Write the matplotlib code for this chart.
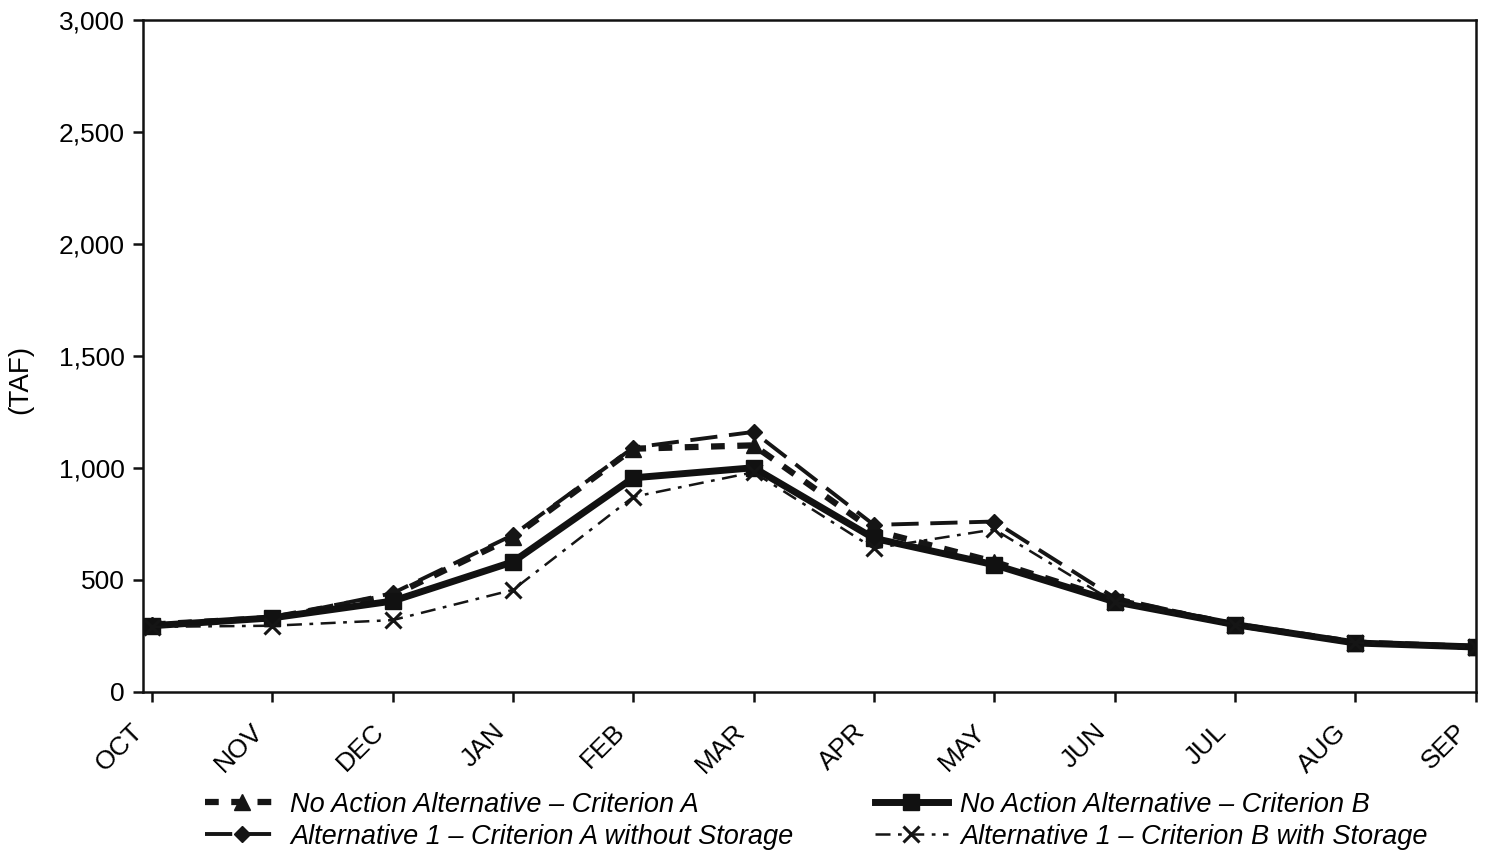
import matplotlib
matplotlib.use("Agg")
import matplotlib.pyplot as plt
from matplotlib.transforms import ScaledTranslation

plt.rcParams['font.family'] = ['Liberation Sans', 'DejaVu Sans']

months = ['OCT', 'NOV', 'DEC', 'JAN', 'FEB', 'MAR', 'APR', 'MAY', 'JUN', 'JUL', 'AUG', 'SEP']

# values in TAF
no_action_a = [300, 330, 430, 690, 1085, 1100, 720, 580, 410, 300, 220, 200]
no_action_b = [295, 330, 405, 580, 955, 1000, 685, 567, 402, 300, 218, 200]
alt1_a_no_storage = [300, 330, 440, 700, 1090, 1160, 745, 760, 420, 300, 220, 200]
alt1_b_storage = [290, 295, 320, 455, 870, 980, 640, 725, 400, 300, 220, 200]

yticks = [0, 500, 1000, 1500, 2000, 2500, 3000]

fig = plt.figure(figsize=(14.89, 8.52), dpi=100)
ax = fig.add_axes([0.096, 0.188, 0.895, 0.789])
x = list(range(len(months)))

ax.plot(x, no_action_a, color='#151515', lw=4.5, ls=(0, (2.2, 2.0)), marker='^', ms=11,
        label='No Action Alternative – Criterion A')
ax.plot(x, alt1_a_no_storage, color='#151515', lw=2.8, ls=(0, (7, 3)), marker='D', ms=8,
        label='Alternative 1 – Criterion A without Storage')
ax.plot(x, no_action_b, color='#111111', lw=5, ls='-', marker='s', ms=11,
        label='No Action Alternative – Criterion B')
ax.plot(x, alt1_b_storage, color='#151515', lw=1.8, ls=(0, (6, 3, 1.5, 3)), marker='x', ms=11,
        mew=2.2, label='Alternative 1 – Criterion B with Storage')

ax.set_xlim(-0.075, 11)
ax.set_ylim(0, 3000)
ax.set_yticks(yticks)
ax.set_yticklabels(['{:,}'.format(v) for v in yticks], fontsize=19)
ax.set_xticks(x)
ax.set_xticklabels(months, rotation=45, ha='right', va='top', fontsize=19, rotation_mode='anchor')
ax.tick_params(axis='both', direction='out', length=7, width=1.8, color='#111111')
ax.tick_params(axis='x', pad=13)
ax.tick_params(axis='y', pad=6)
# rotated month labels sit a bit left of their ticks
shift = ScaledTranslation(-0.21, 0, fig.dpi_scale_trans)
for lab in ax.get_xticklabels():
    lab.set_transform(lab.get_transform() + shift)
for s in ax.spines.values():
    s.set_linewidth(1.8)
    s.set_color('#111111')
ax.set_ylabel('(TAF)', fontsize=20)
ax.yaxis.set_label_coords(-0.0825, 0.464)

handles, labels = ax.get_legend_handles_labels()
fig.legend(handles, labels, loc='upper left',
           bbox_to_anchor=(0.1377, 0.071), ncol=2, frameon=False,
           prop={'style': 'italic', 'size': 19.5}, handlelength=2.7, columnspacing=3.0,
           labelspacing=0.23, handletextpad=0.45, borderpad=0, borderaxespad=0)

fig.savefig('out.png', dpi=100)
